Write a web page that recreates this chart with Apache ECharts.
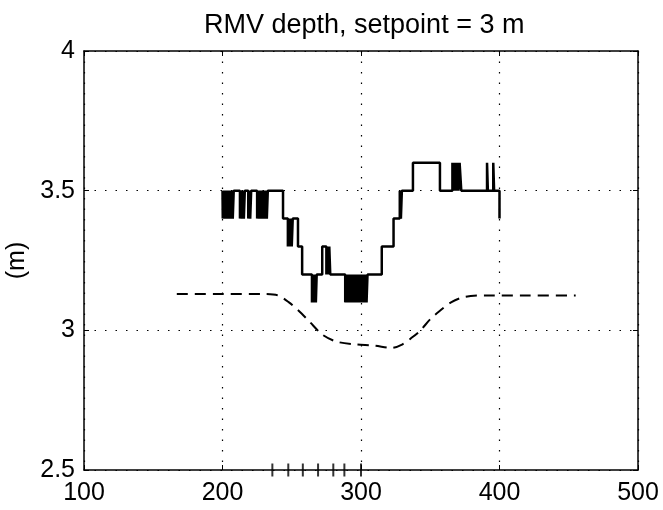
<!DOCTYPE html>
<html>
<head>
<meta charset="utf-8">
<title>RMV depth</title>
<script src="https://cdn.jsdelivr.net/npm/echarts@6/dist/echarts.min.js"></script>
<style>
  html, body { margin: 0; padding: 0; background: #fff; }
  #main { width: 663px; height: 510px; }
</style>
</head>
<body>
<div id="main"></div>
<script>
// 轴刻度
var xTicks = [100, 200, 300, 400, 500];
var yTicks = [2.5, 3, 3.5, 4];

// 实测深度（阶跃信号），x 与 y 一一对应
var depthX = [200, 200.2, 200.9, 201.6, 202.3, 203.2, 203.9, 204.6, 205.3, 206.0, 206.7, 207.4, 208.1,
  212.6, 213.3, 214.0, 214.7, 215.4, 216.1,
  218.6, 219.3, 220.0, 220.7,
  225.0, 225.7, 226.4, 227.1, 227.8, 228.5, 229.2, 229.9, 230.6, 231.3, 232.0, 232.7, 233.4,
  243.7, 247.2, 247.9, 248.6, 249.3, 250.0, 250.7,
  254.5, 257.5, 264.6, 265.3, 266.0, 266.7, 267.4, 268.0,
  272.0, 275.0, 275.7, 276.4, 277.1, 277.8,
  288.6, 289.3, 290.0, 290.7, 291.4, 292.1, 292.8, 293.5, 294.2, 294.9, 295.6, 296.3, 297.0,
  297.7, 298.4, 299.1, 299.8, 300.5, 301.2, 301.9, 302.6, 303.3, 304.0, 304.7,
  315.0, 323.5, 328.0, 328.8, 329.5,
  337.5, 357.0,
  366.0, 366.8, 367.6, 368.6, 369.4, 370.4, 371.2, 372.4,
  391.0, 391.6, 395.5, 396.1, 400.0];
var depthY = [3.5, 3.4, 3.5, 3.4, 3.5, 3.4, 3.5, 3.4, 3.5, 3.4, 3.5, 3.4, 3.5,
  3.4, 3.5, 3.4, 3.5, 3.4, 3.5,
  3.4, 3.5, 3.4, 3.5,
  3.4, 3.5, 3.4, 3.5, 3.4, 3.5, 3.4, 3.5, 3.4, 3.5, 3.4, 3.5, 3.5,
  3.4, 3.3, 3.4, 3.3, 3.4, 3.3, 3.4,
  3.3, 3.2, 3.1, 3.2, 3.1, 3.2, 3.1, 3.2,
  3.3, 3.2, 3.3, 3.2, 3.3, 3.2,
  3.1, 3.2, 3.1, 3.2, 3.1, 3.2, 3.1, 3.2, 3.1, 3.2, 3.1, 3.2, 3.1,
  3.2, 3.1, 3.2, 3.1, 3.2, 3.1, 3.2, 3.1, 3.2, 3.1, 3.2,
  3.3, 3.4, 3.5, 3.4, 3.5,
  3.6, 3.5,
  3.6, 3.5, 3.6, 3.5, 3.6, 3.5, 3.6, 3.5,
  3.6, 3.5, 3.6, 3.5, 3.4];

// 虚线（参考深度曲线）
var refX = [167, 200, 230, 240, 248, 255, 263, 272, 282, 295, 310, 322, 330, 337, 343, 350, 357, 365, 375, 390, 420, 455];
var refY = [3.13, 3.13, 3.13, 3.125, 3.10, 3.07, 3.03, 2.985, 2.96, 2.95, 2.945, 2.937, 2.95, 2.975, 3.0, 3.04, 3.07, 3.10, 3.12, 3.125, 3.125, 3.125];

// 底部的短竖线标记
var markX = [236, 247.5, 258, 269, 280, 288, 300];

function zip(a, b) {
  var out = [];
  for (var i = 0; i < a.length; i++) {
    out.push([a[i], b[i]]);
  }
  return out;
}

var fontName = 'Liberation Sans, Arial, sans-serif';

var myChart = echarts.init(document.getElementById('main'));

var option = {
  animation: false,
  backgroundColor: '#fff',
  title: {
    text: 'RMV depth, setpoint = 3 m',
    left: 199,
    top: 7,
    textStyle: { fontFamily: fontName, fontSize: 27, fontWeight: 'normal', color: '#000' }
  },
  grid: { left: 84, right: 25, top: 51, bottom: 40, show: false, outerBoundsMode: 'none', containLabel: false },
  xAxis: [{
    type: 'value',
    min: xTicks[0],
    max: xTicks[xTicks.length - 1],
    interval: 100,
    axisLine: { show: true, lineStyle: { color: '#000', width: 1.5 } },
    axisTick: { show: true, inside: true, length: 5, lineStyle: { color: '#000' } },
    axisLabel: { fontFamily: fontName, fontSize: 25, color: '#000', margin: 11 },
    splitLine: { show: true, lineStyle: { color: '#000', width: 1.2, type: [1.5, 9] } }
  }, {
    type: 'value',
    position: 'top',
    min: xTicks[0],
    max: xTicks[xTicks.length - 1],
    interval: 100,
    axisLine: { show: true, lineStyle: { color: '#000', width: 1.5 } },
    axisTick: { show: true, inside: true, length: 5, lineStyle: { color: '#000' } },
    axisLabel: { show: false },
    splitLine: { show: false }
  }],
  yAxis: [{
    type: 'value',
    min: yTicks[0],
    max: yTicks[yTicks.length - 1],
    interval: 0.5,
    name: '(m)',
    nameLocation: 'middle',
    nameGap: 54,
    nameTextStyle: { fontFamily: fontName, fontSize: 25, color: '#000' },
    axisLine: { show: true, lineStyle: { color: '#000', width: 1.5 } },
    axisTick: { show: true, inside: true, length: 5, lineStyle: { color: '#000' } },
    axisLabel: { fontFamily: fontName, fontSize: 25, color: '#000', margin: 9 },
    splitLine: { show: true, lineStyle: { color: '#000', width: 1.2, type: [1.5, 9] } }
  }, {
    type: 'value',
    position: 'right',
    min: yTicks[0],
    max: yTicks[yTicks.length - 1],
    interval: 0.5,
    axisLine: { show: true, lineStyle: { color: '#000', width: 1.5 } },
    axisTick: { show: true, inside: true, length: 5, lineStyle: { color: '#000' } },
    axisLabel: { show: false },
    splitLine: { show: false }
  }],
  series: [{
    name: 'depth',
    type: 'line',
    step: 'end',
    showSymbol: false,
    data: zip(depthX, depthY),
    lineStyle: { color: '#000', width: 2.5 }
  }, {
    name: 'reference',
    type: 'line',
    smooth: 0.3,
    showSymbol: false,
    data: zip(refX, refY),
    lineStyle: { color: '#000', width: 2, type: [11, 7] }
  }, {
    name: 'marks',
    type: 'scatter',
    symbol: 'rect',
    symbolSize: [2, 13],
    itemStyle: { color: '#000' },
    data: markX.map(function (v) { return [v, yTicks[0]]; })
  }]
};

myChart.setOption(option);
</script>
</body>
</html>
